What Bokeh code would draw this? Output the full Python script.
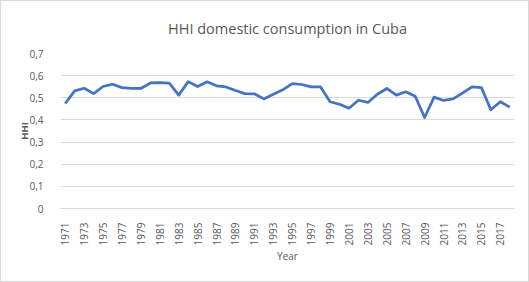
import numpy as np
from bokeh.plotting import figure
from bokeh.models import Range1d, FixedTicker, CustomJSTickFormatter
from bokeh.embed import file_html
from bokeh.resources import INLINE

title_text = "HHI domestic consumption in Cuba"
x_label = "Year"
y_label = "HHI"

years = list(range(1971, 2019))
hhi = [0.474, 0.531, 0.543, 0.519, 0.551, 0.561, 0.546, 0.542, 0.542, 0.567,
       0.569, 0.566, 0.512, 0.573, 0.551, 0.572, 0.554, 0.549, 0.533, 0.519,
       0.518, 0.495, 0.516, 0.536, 0.564, 0.560, 0.549, 0.549, 0.482, 0.471,
       0.453, 0.489, 0.479, 0.516, 0.542, 0.512, 0.527, 0.507, 0.411, 0.503,
       0.488, 0.495, 0.521, 0.549, 0.546, 0.446, 0.482, 0.458]
y_ticks = [0, 0.1, 0.2, 0.3, 0.4, 0.5, 0.6, 0.7]
x_ticks = list(range(1971, 2018, 2))

FONT = "Open Sans"
TXT = "#595959"
GRID = "#d9d9d9"

p = figure(frame_width=454, frame_height=155,
           min_border_left=59, min_border_right=14,
           min_border_top=52, min_border_bottom=73,
           x_range=Range1d(years[0] - 0.5, years[-1] + 0.5),
           y_range=Range1d(0, 0.7),
           output_backend="svg", toolbar_location=None,
           title=title_text)
p.styles = {"border": "1px solid #d9d9d9"}
p.outline_line_color = None
p.background_fill_color = "white"
p.border_fill_color = "white"

p.title.align = "center"
p.title.text_font = FONT
p.title.text_font_size = "14.5px"
p.title.text_font_style = "normal"
p.title.text_color = TXT
p.title.offset = 0
p.title.standoff = 11
p.title.padding = 10

p.line(years, hhi, line_color="#4472C4", line_width=2.75, line_join="round")

p.xgrid.grid_line_color = None
p.ygrid.grid_line_color = GRID
p.ygrid.ticker = FixedTicker(ticks=y_ticks)

xa = p.xaxis[0]
xa.ticker = FixedTicker(ticks=x_ticks)
xa.major_label_orientation = np.pi / 2
xa.axis_line_color = GRID
xa.major_tick_line_color = None
xa.minor_tick_line_color = None
xa.major_label_text_font = FONT
xa.major_label_text_font_size = "10px"
xa.major_label_text_color = TXT
xa.major_label_standoff = 8
xa.axis_label = x_label
xa.axis_label_text_font = FONT
xa.axis_label_text_font_size = "10px"
xa.axis_label_text_font_style = "normal"
xa.axis_label_text_color = TXT
xa.axis_label_standoff = 1

ya = p.yaxis[0]
ya.ticker = FixedTicker(ticks=y_ticks)
ya.formatter = CustomJSTickFormatter(code="""
const s = tick.toFixed(1);
return s === "0.0" ? "0" : s.replace(".", ",");
""")
ya.axis_line_color = None
ya.major_tick_line_color = None
ya.minor_tick_line_color = None
ya.major_label_text_font = FONT
ya.major_label_text_font_size = "10px"
ya.major_label_text_color = TXT
ya.major_label_standoff = 11
ya.axis_label = y_label
ya.axis_label_text_font = FONT
ya.axis_label_text_font_size = "9.5px"
ya.axis_label_text_font_style = "bold"
ya.axis_label_text_color = TXT
ya.axis_label_standoff = -5

open("out.html", "w").write(file_html(p, INLINE))
